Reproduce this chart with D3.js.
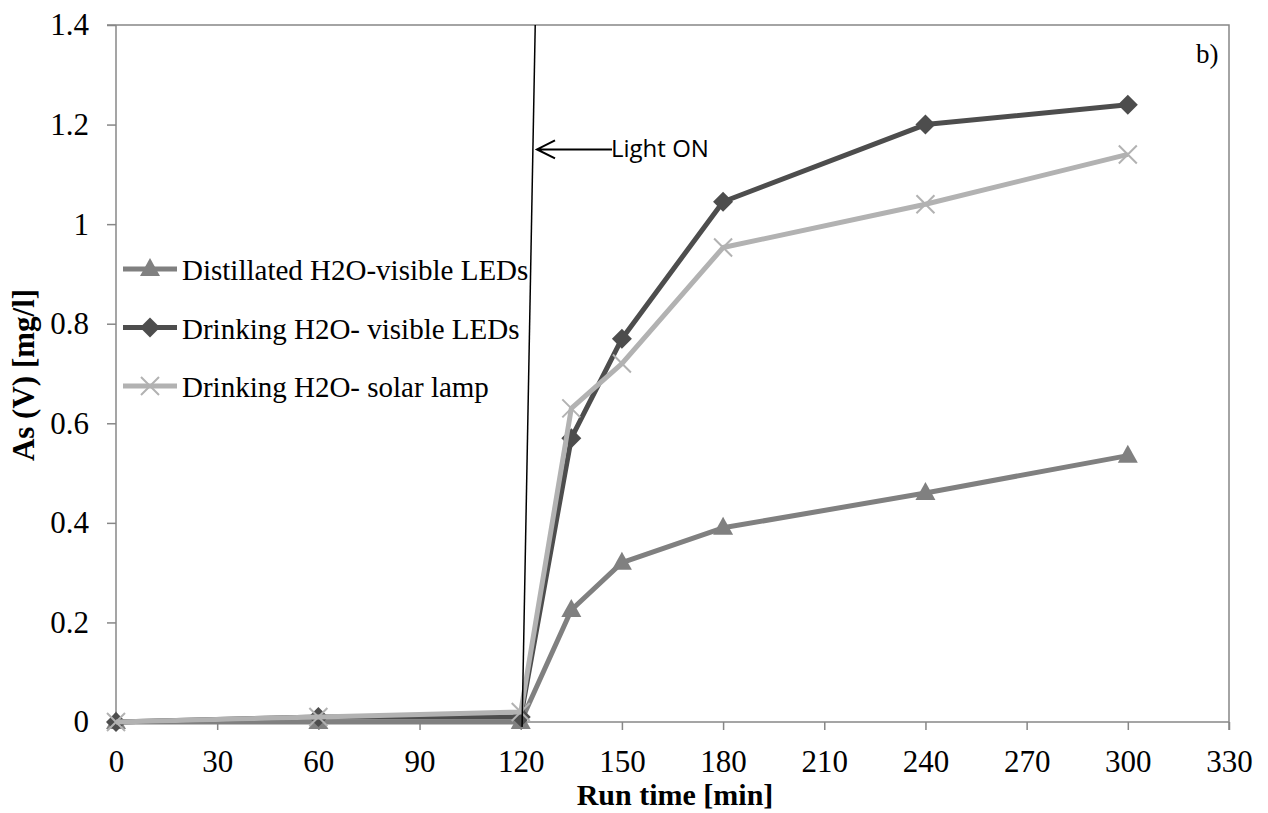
<!DOCTYPE html>
<html lang="en">
	<head>
		<meta charset="utf-8">
		<title>As(V) vs run time</title>
		<script type="text/javascript" src="https://d3js.org/d3.v7.min.js"></script>
		<style type="text/css">
			body { margin: 0; background: #fff; }
			text { font-family: "Liberation Serif", "DejaVu Serif", serif; fill: #000; }
		</style>
	</head>
	<body>
		<script type="text/javascript">

			//Width and height
			var w = 1268;
			var h = 813;

			//Data
			var runTime = [0, 60, 120, 135, 150, 180, 240, 300];
			var distilledLED = [0, 0, 0, 0.225, 0.32, 0.39, 0.46, 0.535];
			var drinkingLED = [0, 0.01, 0.01, 0.57, 0.77, 1.045, 1.2, 1.24];
			var drinkingSolar = [0, 0.01, 0.02, 0.63, 0.72, 0.953, 1.04, 1.14];
			var seriesNames = ["Distillated H2O-visible LEDs", "Drinking H2O- visible LEDs", "Drinking H2O- solar lamp"];
			var xTicks = [0, 30, 60, 90, 120, 150, 180, 210, 240, 270, 300, 330];
			var yTicks = [0, 0.2, 0.4, 0.6, 0.8, 1, 1.2, 1.4];
			// hand drawn "Light ON" line, in data units
			var lightLine = [[124.3, 1.4], [120.4, -0.01]];
			var lightArrowY = 1.15;

			var series = [
				{name: seriesNames[0], values: distilledLED, color: "#808080", marker: "triangle"},
				{name: seriesNames[1], values: drinkingLED, color: "#4d4d4d", marker: "diamond"},
				{name: seriesNames[2], values: drinkingSolar, color: "#b2b2b2", marker: "cross"}
			];

			var mLeft = 116, mRight = 1229, mTop = 25, mBottom = 722;

			var x = d3.scaleLinear().domain([0, 330]).range([mLeft, mRight]);
			var y = d3.scaleLinear().domain([0, 1.4]).range([mBottom, mTop]);

			var svg = d3.select("body")
						.append("svg")
						.attr("width", w)
						.attr("height", h);

			//plot frame (top and right)
			svg.append("path")
			   .attr("d", "M" + (mLeft - 9) + "," + mTop + "H" + mRight + "V" + (mBottom + 8))
			   .attr("fill", "none")
			   .attr("stroke", "#878787")
			   .attr("stroke-width", 1.5);

			//axes
			var xAxis = svg.append("g")
				.attr("transform", "translate(0," + mBottom + ")")
				.call(d3.axisBottom(x).tickValues(xTicks).tickSize(8).tickPadding(20).tickFormat(d3.format("d")));
			var yAxis = svg.append("g")
				.attr("transform", "translate(" + mLeft + ",0)")
				.call(d3.axisLeft(y).tickValues(yTicks).tickSize(9).tickPadding(18).tickFormat(function(d){ return d3.format("")(+d.toFixed(1)); }));

			[xAxis, yAxis].forEach(function(a) {
				a.attr("font-family", null).attr("font-size", null);
				a.selectAll("path, line").attr("stroke", "#878787").attr("stroke-width", 1.5);
				a.selectAll("text").style("font-family", "'Liberation Serif', serif").style("font-size", "31px").attr("fill", "#000");
			});
			xAxis.select(".domain").attr("d", "M" + mLeft + ",0H" + mRight);
			yAxis.select(".domain").attr("d", "M0," + mTop + "V" + mBottom);

			//marker shapes
			function marker(g, type, color) {
				if (type === "triangle") {
					g.append("path").attr("d", "M0,-11L10,7L-10,7Z").attr("fill", color);
				} else if (type === "diamond") {
					g.append("path").attr("d", "M0,-10L10,0L0,10L-10,0Z").attr("fill", color);
				} else {
					g.append("path").attr("d", "M-9,-9L9,9M-9,9L9,-9").attr("stroke", color).attr("stroke-width", 2);
				}
			}

			var line = d3.line()
				.x(function(d, i){ return x(runTime[i]); })
				.y(function(d){ return y(d); });

			series.forEach(function(s) {
				svg.append("path")
				   .attr("d", line(s.values))
				   .attr("fill", "none")
				   .attr("stroke", s.color)
				   .attr("stroke-width", 5)
				   .attr("stroke-linejoin", "round");
				s.values.forEach(function(v, i) {
					var g = svg.append("g").attr("transform", "translate(" + x(runTime[i]) + "," + y(v) + ")");
					marker(g, s.marker, s.color);
				});
			});

			//legend
			var legend = svg.append("g");
			series.forEach(function(s, i) {
				var ly = 269 + i * 58.5;
				var g = legend.append("g").attr("transform", "translate(0," + ly + ")");
				g.append("line").attr("x1", 123).attr("x2", 177).attr("y1", 0).attr("y2", 0)
				 .attr("stroke", s.color).attr("stroke-width", 5);
				var m = g.append("g").attr("transform", "translate(150,0)");
				marker(m, s.marker, s.color);
				g.append("text").attr("x", 182).attr("y", 11)
				 .style("font-size", "29px").text(s.name);
			});

			//Light ON annotation
			svg.append("line")
			   .attr("x1", x(lightLine[0][0])).attr("y1", y(lightLine[0][1]))
			   .attr("x2", x(lightLine[1][0])).attr("y2", y(lightLine[1][1]))
			   .attr("stroke", "#000").attr("stroke-width", 1.5);
			var ay = y(lightArrowY);
			svg.append("path")
			   .attr("d", "M612," + ay + "H537M555," + (ay - 9) + "L537," + ay + "L555," + (ay + 9))
			   .attr("fill", "none").attr("stroke", "#000").attr("stroke-width", 2);
			svg.append("text").attr("x", 611).attr("y", ay + 8)
			   .style("font-family", "Open Sans").style("font-size", "24px").text("Light ON");

			//b) label
			svg.append("text").attr("x", 1196).attr("y", 63).style("font-size", "27px").text("b)");

			//axis titles
			svg.append("text").attr("x", 675).attr("y", 805)
			   .attr("text-anchor", "middle").style("font-size", "30px").style("font-weight", "bold")
			   .text("Run time [min]");
			svg.append("text").attr("transform", "translate(34,375) rotate(-90)")
			   .attr("text-anchor", "middle").style("font-size", "31px").style("font-weight", "bold")
			   .text("As (V) [mg/l]");

		</script>
	</body>
</html>
